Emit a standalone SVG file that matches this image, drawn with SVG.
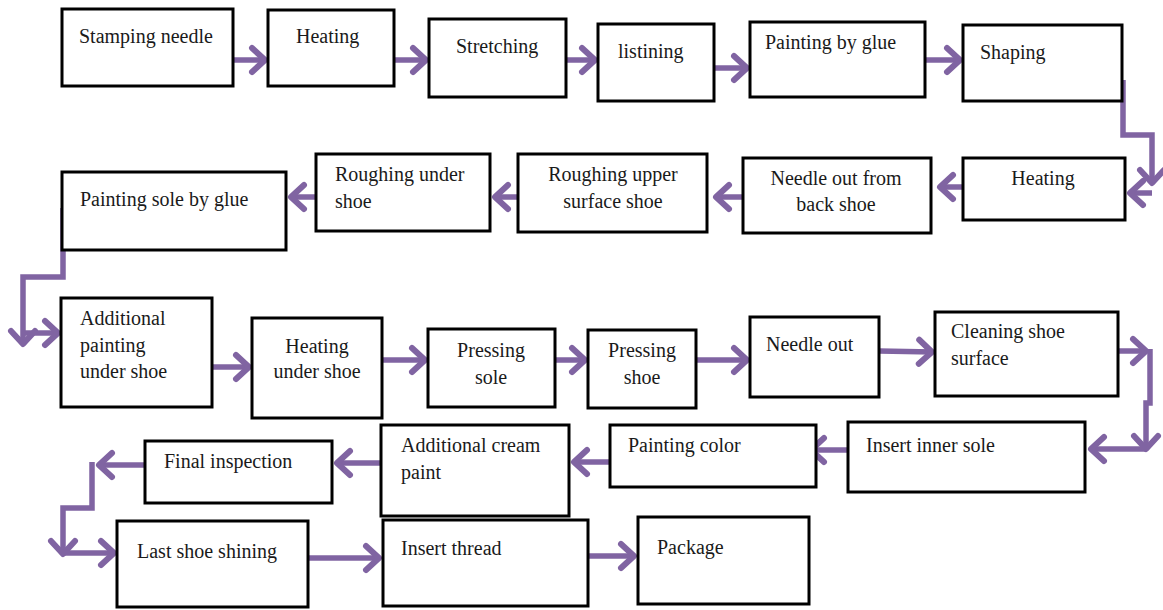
<svg xmlns="http://www.w3.org/2000/svg" width="1163" height="610" viewBox="0 0 1163 610">
<style>
.box{fill:#fff;stroke:#000;stroke-width:3}
.t{font-family:"Liberation Serif","Times New Roman",serif;font-size:20px;fill:#1a1a1a}
.c{text-anchor:middle}
.ln{fill:none;stroke:#8064A2;stroke-width:5.5;stroke-linejoin:miter}
.ar{marker-end:url(#ah)}
</style>
<defs>
<marker id="ah" markerUnits="userSpaceOnUse" viewBox="-20 -16 24 32" markerWidth="24" markerHeight="32" refX="0" refY="0" orient="auto" overflow="visible">
<path d="M-14,-12 L-1,0 L-14,12" fill="none" stroke="#8064A2" stroke-width="6" stroke-linecap="round" stroke-linejoin="round"/>
</marker>
</defs>
<rect width="1163" height="610" fill="#fff"/>
<g id="connectors">
<path class="ln ar" d="M233,60 H266"/>
<path class="ln ar" d="M394,60 H427"/>
<path class="ln ar" d="M566,60 H596"/>
<path class="ln ar" d="M714,68 H748"/>
<path class="ln ar" d="M925,60 H961"/>
<path class="ln ar" d="M1123,80 V135 H1152 V184"/>
<path class="ln ar" d="M1152,193 H1129"/>
<path class="ln ar" d="M963,187 H939"/>
<path class="ln ar" d="M743,197 H715"/>
<path class="ln ar" d="M518,197 H494"/>
<path class="ln ar" d="M316,197 H290"/>
<path class="ln ar" d="M63,208 V277 H23 V345"/>
<path class="ln ar" d="M23,333 H59"/>
<path class="ln ar" d="M212,367 H250"/>
<path class="ln ar" d="M382,360 H426"/>
<path class="ln ar" d="M555,360 H586"/>
<path class="ln ar" d="M696,360 H748"/>
<path class="ln ar" d="M879,351 L933,352"/>
<path class="ln ar" d="M1118,351 H1147"/>
<path class="ln ar" d="M1150,349 V403 H1146 V450"/>
<path class="ln ar" d="M1146,449 H1090"/>
<path class="ln ar" d="M848,450 H810"/>
<path class="ln ar" d="M610,462 H573"/>
<path class="ln ar" d="M389,463 H336"/>
<path class="ln ar" d="M145,465 H98"/>
<path class="ln ar" d="M92,462 V508 H63 V555"/>
<path class="ln ar" d="M63,553 H115"/>
<path class="ln ar" d="M308,558 H380"/>
<path class="ln ar" d="M588,556 H635"/>
</g>
<g id="n1"><rect class="box" x="62" y="9" width="171" height="77"/><text class="t" x="79" y="43">Stamping needle</text></g>
<g id="n2"><rect class="box" x="268" y="10" width="126" height="76"/><text class="t" x="296" y="43">Heating</text></g>
<g id="n3"><rect class="box" x="429" y="19" width="137" height="78"/><text class="t" x="456" y="53">Stretching</text></g>
<g id="n4"><rect class="box" x="598" y="24" width="116" height="77"/><text class="t" x="618" y="58">listining</text></g>
<g id="n5"><rect class="box" x="750" y="22" width="175" height="75"/><text class="t" x="765" y="49">Painting by glue</text></g>
<g id="n6"><rect class="box" x="963" y="25" width="159" height="76"/><text class="t" x="980" y="59">Shaping</text></g>
<g id="n7"><rect class="box" x="963" y="158" width="162" height="62"/><text class="t c" x="1043" y="185">Heating</text></g>
<g id="n8"><rect class="box" x="743" y="158" width="188" height="75"/><text class="t c" x="836" y="185">Needle out from</text><text class="t c" x="836" y="211">back shoe</text></g>
<g id="n9"><rect class="box" x="518" y="154" width="189" height="78"/><text class="t c" x="613" y="181">Roughing upper</text><text class="t c" x="613" y="208">surface shoe</text></g>
<g id="n10"><rect class="box" x="316" y="154" width="174" height="77"/><text class="t" x="335" y="181">Roughing under</text><text class="t" x="335" y="208">shoe</text></g>
<g id="n11"><rect class="box" x="62" y="172" width="224" height="78"/><text class="t" x="80" y="206">Painting sole by glue</text></g>
<g id="n12"><rect class="box" x="61" y="298" width="151" height="109"/><text class="t" x="80" y="325">Additional</text><text class="t" x="80" y="352">painting</text><text class="t" x="80" y="378">under shoe</text></g>
<g id="n13"><rect class="box" x="252" y="318" width="130" height="100"/><text class="t c" x="317" y="353">Heating</text><text class="t c" x="317" y="378">under shoe</text></g>
<g id="n14"><rect class="box" x="428" y="329" width="127" height="78"/><text class="t c" x="491" y="357">Pressing</text><text class="t c" x="491" y="384">sole</text></g>
<g id="n15"><rect class="box" x="588" y="330" width="108" height="78"/><text class="t c" x="642" y="357">Pressing</text><text class="t c" x="642" y="384">shoe</text></g>
<g id="n16"><rect class="box" x="750" y="317" width="129" height="80"/><text class="t" x="766" y="351">Needle out</text></g>
<g id="n17"><rect class="box" x="935" y="312" width="183" height="84"/><text class="t" x="951" y="338">Cleaning shoe</text><text class="t" x="951" y="365">surface</text></g>
<g id="n18"><rect class="box" x="848" y="422" width="237" height="70"/><text class="t" x="866" y="452">Insert inner sole</text></g>
<g id="n19"><rect class="box" x="610" y="425" width="206" height="62"/><text class="t" x="628" y="452">Painting color</text></g>
<g id="n20"><rect class="box" x="381" y="425" width="188" height="91"/><text class="t" x="401" y="452">Additional cream</text><text class="t" x="401" y="479">paint</text></g>
<g id="n21"><rect class="box" x="145" y="441" width="187" height="62"/><text class="t" x="164" y="468">Final inspection</text></g>
<g id="n22"><rect class="box" x="117" y="521" width="191" height="86"/><text class="t" x="137" y="558">Last shoe shining</text></g>
<g id="n23"><rect class="box" x="383" y="520" width="205" height="86"/><text class="t" x="401" y="555">Insert thread</text></g>
<g id="n24"><rect class="box" x="638" y="517" width="171" height="87"/><text class="t" x="657" y="554">Package</text></g>
</svg>
